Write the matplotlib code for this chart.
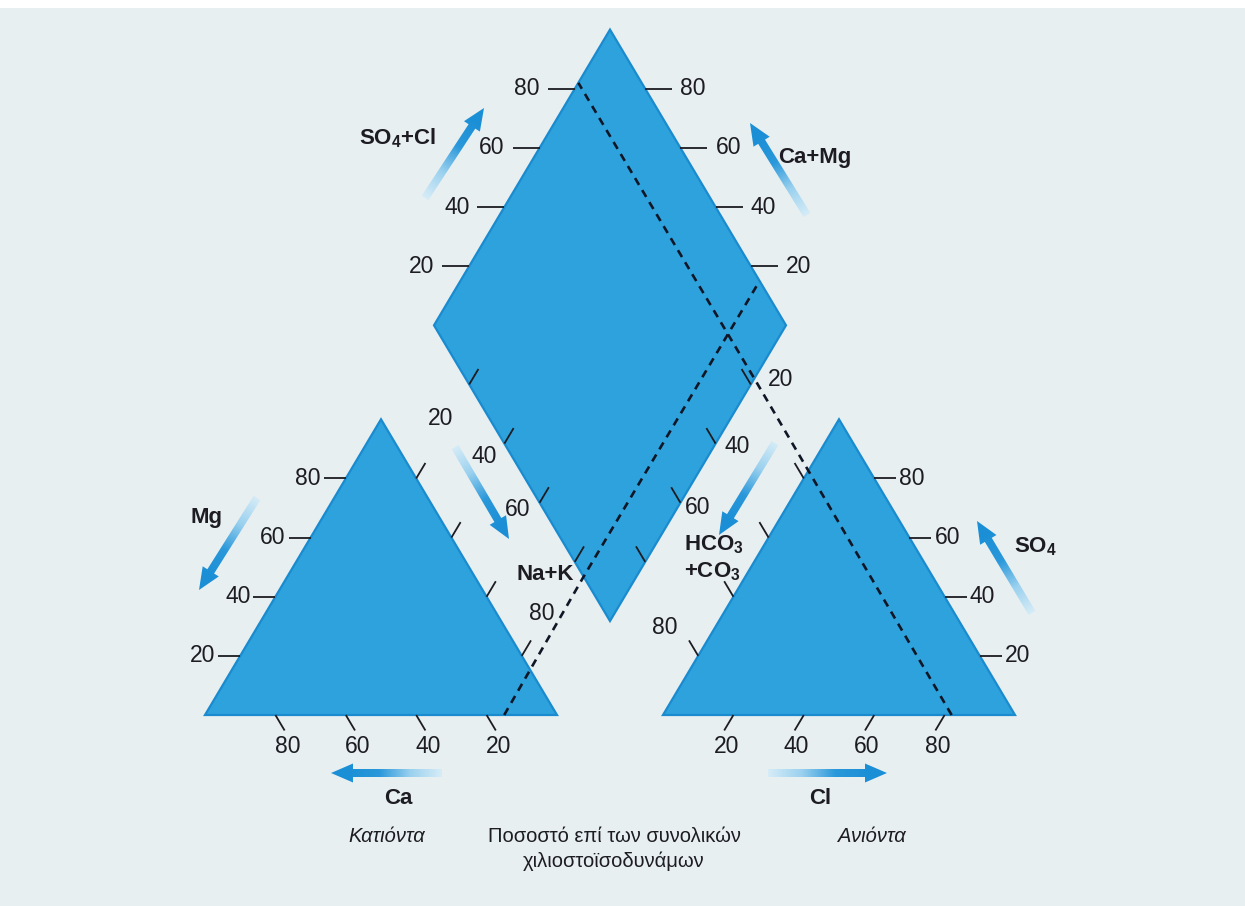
import numpy as np
import matplotlib
matplotlib.use("Agg")
import matplotlib.pyplot as plt
from matplotlib import font_manager
from matplotlib.patches import Polygon, Rectangle
from matplotlib.colors import LinearSegmentedColormap

# ---------------- content ----------------
tick_values = [20, 40, 60, 80]

# sample water (percent of total milliequivalents)
cation_names = ["Ca", "Mg", "Na+K"]
sample_cations = [15, 0, 85]
anion_names = ["HCO3+CO3", "SO4", "Cl"]
sample_anions = [18, 0, 82]

caption_lines = ["Ποσοστό επί των συνολικών", "χιλιοστοϊσοδυνάμων"]
cation_title = "Κατιόντα"
anion_title = "Ανιόντα"

# ---------------- layout ----------------
W, H = 1245, 906
BASE_Y = 715
SIDE = 352
VSCALE = 0.97
CAT_X0 = 205
AN_X0 = 663
DIA_BOTTOM = np.array([610.0, 621.0])

FILL = "#2ea2dc"
EDGE = "#1a8bcf"
BG = "#e8eff1"
INK = "#1c1c22"
DASH = "#0f1626"


def pick_font(names):
    for n in names:
        try:
            font_manager.findfont(font_manager.FontProperties(family=n),
                                  fallback_to_default=False)
            return n
        except Exception:
            pass
    return "DejaVu Sans"


SANS = pick_font(["Liberation Sans", "Arial", "DejaVu Sans"])
NARROW = pick_font(["Liberation Sans Narrow", "Liberation Sans", "DejaVu Sans"])

plt.rcParams["mathtext.fontset"] = "custom"
plt.rcParams["mathtext.rm"] = SANS
plt.rcParams["mathtext.bf"] = SANS + ":bold"

tri_h = SIDE * np.sqrt(3) / 2 * VSCALE

# triangle vertices (x right, y down)
CA = np.array([CAT_X0, BASE_Y], float)
NAK = np.array([CAT_X0 + SIDE, BASE_Y], float)
MG = np.array([CAT_X0 + SIDE / 2, BASE_Y - tri_h], float)

HCO = np.array([AN_X0, BASE_Y], float)
CL = np.array([AN_X0 + SIDE, BASE_Y], float)
SO4 = np.array([AN_X0 + SIDE / 2, BASE_Y - tri_h], float)

DB = DIA_BOTTOM
DL = DB + np.array([-SIDE / 2, -tri_h])
DR = DB + np.array([SIDE / 2, -tri_h])
DT = DB + np.array([0, -2 * tri_h])


def cat_pt(ca, mg, nak):
    return (ca * CA + mg * MG + nak * NAK) / 100.0


def an_pt(hco3, so4, cl):
    return (hco3 * HCO + so4 * SO4 + cl * CL) / 100.0


def dia_pt(nak, s):
    return DL + nak / 100.0 * (DB - DL) + s / 100.0 * (DT - DL)


def unit(v):
    v = np.asarray(v, float)
    return v / np.hypot(*v)


fig = plt.figure(figsize=(W / 100, H / 100), dpi=100, facecolor=BG)
ax = fig.add_axes([0, 0, 1, 1])
ax.set_xlim(0, W)
ax.set_ylim(H, 0)
ax.set_facecolor(BG)
ax.axis("off")

# scanned page border
ax.add_patch(Rectangle((0, 0), W, 8, facecolor="white", edgecolor="none", zorder=0))

# ---------------- shapes ----------------
for verts in ([CA, NAK, MG], [HCO, CL, SO4], [DL, DB, DR, DT]):
    ax.add_patch(Polygon(np.array(verts), closed=True, facecolor=FILL,
                         edgecolor=EDGE, lw=1.6, joinstyle="miter", zorder=2))

TICK_LW = 1.3
TXT = dict(family=SANS, fontsize=16.5, color=INK)


def seg(p, q, **kw):
    ax.plot([p[0], q[0]], [p[1], q[1]], color=INK, lw=TICK_LW,
            solid_capstyle="butt", zorder=4, **kw)


L_OUT = 18
for v in tick_values:
    # cation triangle: Ca along base
    p = cat_pt(v, 0, 100 - v)
    q = p + L_OUT * unit(NAK - MG)
    seg(p, q)
    ax.text(q[0] + 3, q[1] + 16, str(v), ha="center", va="center", **TXT)
    # Mg along left edge
    p = cat_pt(100 - v, v, 0)
    q = p + np.array([-22, 0])
    seg(p, q)
    ax.text(q[0] - 3, q[1], str(v), ha="right", va="center", **TXT)
    # Na+K along right edge
    p = cat_pt(0, 100 - v, v)
    seg(p, p + L_OUT * unit(MG - CA))

    # anion triangle: Cl along base
    p = an_pt(100 - v, 0, v)
    q = p + L_OUT * unit(HCO - SO4)
    seg(p, q)
    ax.text(q[0] + 2, q[1] + 16, str(v), ha="center", va="center", **TXT)
    # SO4 along right edge
    p = an_pt(0, v, 100 - v)
    q = p + np.array([22, 0])
    seg(p, q)
    ax.text(q[0] + 3, q[1], str(v), ha="left", va="center", **TXT)
    # HCO3+CO3 along left edge
    p = an_pt(v, 100 - v, 0)
    seg(p, p + L_OUT * unit(SO4 - CL))

    # diamond: SO4+Cl upper-left edge
    p = dia_pt(0, v)
    q = p + np.array([-27, 0])
    seg(p, q)
    ax.text(q[0] - 8, q[1], str(v), ha="right", va="center", **TXT)
    # Ca+Mg upper-right edge
    p = dia_pt(100 - v, 100)
    q = p + np.array([27, 0])
    seg(p, q)
    ax.text(q[0] + 8, q[1], str(v), ha="left", va="center", **TXT)
    # Na+K lower-left edge (inward)
    p = dia_pt(v, 0)
    seg(p, p + L_OUT * unit(DT - DL))
    # HCO3+CO3 lower-right edge (inward)
    p = dia_pt(100, 100 - v)
    seg(p, p + L_OUT * unit(DL - DB))

# shared labels in the gaps between diamond and triangles
left_gap_nudge = {20: (-29, 34), 40: (-20, 13), 60: (-22, 7), 80: (-33, 52)}
right_gap_nudge = {20: (30, -5), 40: (22, 3), 60: (17, 5), 80: (20, 66)}
for v in tick_values:
    p = dia_pt(v, 0) + np.array(left_gap_nudge[v])
    ax.text(p[0], p[1], str(v), ha="center", va="center", **TXT)
    p = dia_pt(100, 100 - v) + np.array(right_gap_nudge[v])
    ax.text(p[0], p[1], str(v), ha="center", va="center", **TXT)

# ---------------- sample projection ----------------
ca, mg, nak = sample_cations
hco3, so4, cl = sample_anions
cat_p = cat_pt(ca, mg, nak)
an_p = an_pt(hco3, so4, cl)
s_val = so4 + cl

DASH_KW = dict(color=DASH, lw=1.9, dashes=(3.0, 2.3), zorder=5,
               dash_capstyle="butt")
# cation point -> diamond edge -> across the diamond
cat_path = np.array([cat_p, dia_pt(nak, 0), dia_pt(nak, 100)])
# anion point -> diamond edge -> across the diamond
an_path = np.array([an_p, dia_pt(100, s_val), dia_pt(0, s_val)])
for path in (cat_path, an_path):
    ax.plot(path[:, 0], path[:, 1], **DASH_KW)

# ---------------- gradient arrows ----------------
arrow_cmap = LinearSegmentedColormap.from_list(
    "fade", ["#d6ecf7", "#9ad1ef", "#2a98da", "#1b8fd6"])


def grad_arrow(tail, tip, shaft=8.0, head_len=22.0, head_w=19.0):
    tail = np.asarray(tail, float)
    tip = np.asarray(tip, float)
    length = np.hypot(*(tip - tail))
    u = unit(tip - tail)
    n = np.array([-u[1], u[0]])
    neck = tip - head_len * u
    outline = np.array([
        tail + n * shaft / 2, neck + n * shaft / 2, neck + n * head_w / 2, tip,
        neck - n * head_w / 2, neck - n * shaft / 2, tail - n * shaft / 2,
    ])
    clip = Polygon(outline, closed=True, facecolor="none", edgecolor="none",
                   transform=ax.transData)
    ax.add_patch(clip)
    x0, y0 = outline.min(axis=0) - 2
    x1, y1 = outline.max(axis=0) + 2
    xs = np.linspace(x0, x1, max(int(x1 - x0) * 2, 4))
    ys = np.linspace(y0, y1, max(int(y1 - y0) * 2, 4))
    gx, gy = np.meshgrid(xs, ys)
    t = ((gx - tail[0]) * u[0] + (gy - tail[1]) * u[1]) / length
    rgba = arrow_cmap(np.clip(t / 0.85, 0, 1))
    im = ax.imshow(rgba, extent=(x0, x1, y1, y0), origin="upper",
                   interpolation="bilinear", zorder=3, aspect="auto")
    im.set_clip_path(clip)


arrow_paths = [
    ((425, 198), (484, 108)),
    ((807, 215), (750, 123)),
    ((257, 498), (199, 590)),
    ((455, 447), (509, 539)),
    ((775, 443), (719, 535)),
    ((1032, 613), (977, 521)),
    ((442, 773), (331, 773)),
    ((768, 773), (887, 773)),
]
for tail, tip in arrow_paths:
    grad_arrow(tail, tip)
ax.set_xlim(0, W)
ax.set_ylim(H, 0)

# ---------------- labels ----------------
BOLD = dict(family=SANS, fontsize=16, fontweight="bold", color=INK)
ax.text(398, 138, r"SO$_{\mathbf{4}}$+Cl", ha="center", va="center", **BOLD)
ax.text(815, 157, "Ca+Mg", ha="center", va="center", **BOLD)
ax.text(207, 517, cation_names[1], ha="center", va="center", **BOLD)
ax.text(545, 575, cation_names[2], ha="center", va="center", **BOLD)
ax.text(684, 545, r"HCO$_{\mathbf{3}}$", ha="left", va="center", **BOLD)
ax.text(684, 572, r"+CO$_{\mathbf{3}}$", ha="left", va="center", **BOLD)
ax.text(1014, 547, r"SO$_{\mathbf{4}}$", ha="left", va="center", **BOLD)
ax.text(398, 798, cation_names[0], ha="center", va="center", **BOLD)
ax.text(820, 798, anion_names[2], ha="center", va="center", **BOLD)

CAP = dict(family=NARROW, fontsize=14.5, color=INK)
ax.text(387, 836, cation_title, ha="center", va="center", style="italic", **CAP)
ax.text(872, 836, anion_title, ha="center", va="center", style="italic", **CAP)
ax.text(614, 836, caption_lines[0], ha="center", va="center", **CAP)
ax.text(614, 861, caption_lines[1], ha="center", va="center", **CAP)

fig.savefig("out.png", dpi=100, facecolor=BG)
